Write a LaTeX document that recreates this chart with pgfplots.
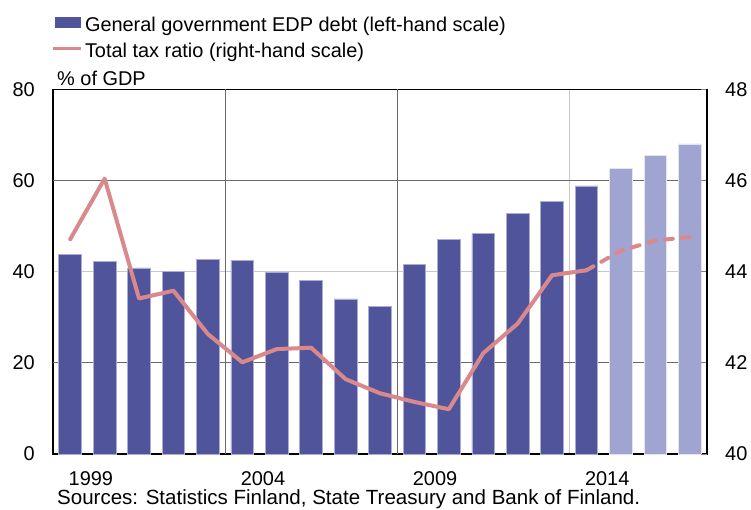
\documentclass[border=0pt]{standalone}
\usepackage{fontspec}
\setmainfont{Liberation Sans}
\usepackage{pgfplots}
\pgfplotsset{compat=1.18}
\usetikzlibrary{calc}
\definecolor{barDark}{RGB}{79,84,155}
\definecolor{barLight}{RGB}{160,164,209}
\definecolor{barEdge}{RGB}{170,174,215}
\definecolor{lineC}{RGB}{217,137,140}
\definecolor{gridDark}{RGB}{105,105,105}
\definecolor{gridLight}{RGB}{200,200,200}
\newcommand{\fs}{\fontsize{20}{24}\selectfont}
\begin{document}
\begin{tikzpicture}
\begin{axis}[
  name=ax,
  width=654bp, height=364.6bp, scale only axis,
  xmin=1998.5, xmax=2017.5, ymin=0, ymax=80,
  ytick={0,20,40,60,80},
  xtick={1999.6,2004.6,2009.6,2014.6},
  xticklabels={1999,2004,2009,2014},
  major tick length=0pt, minor tick length=0pt,
  /pgf/number format/assume math mode=true,
  ymajorgrids,
  major grid style={color=gridLight, line width=1bp},
  extra y ticks={20,60}, extra y tick labels={},
  extra y tick style={grid=major, major grid style={color=gridDark, line width=1bp}},
  extra x ticks={2003.5,2008.5}, extra x tick labels={},
  extra x tick style={grid=major, major grid style={color=gridDark, line width=1bp}},
  minor xtick={2013.5}, xminorgrids,
  minor grid style={color=gridLight, line width=1bp},
  axis line style={black, line width=1.2bp},
  yticklabel style={font=\fs, anchor=east, inner sep=0pt, xshift=-18bp},
  xticklabel style={font=\fs, anchor=base, inner sep=0pt, yshift=-31.8bp},
  clip=false,
]
\addplot[ybar, bar width=22.7bp, bar shift=0pt, fill=barDark, draw=barEdge, line width=0.8bp]
 coordinates {(1999,43.8) (2000,42.3) (2001,40.8) (2002,40.1) (2003,42.7) (2004,42.5) (2005,39.9) (2006,38.1) (2007,34.0) (2008,32.4) (2009,41.6) (2010,47.1) (2011,48.3) (2012,52.7) (2013,55.4) (2014,58.8)};
\addplot[ybar, bar width=22.7bp, bar shift=0pt, fill=barLight, draw=white!70!barLight, line width=0.8bp]
 coordinates {(2015,62.6) (2016,65.4) (2017,68.0)};
\node[font=\fs, anchor=base west, inner sep=0pt] at ($(rel axis cs:0,1)+(4bp,3.3bp)$) {\% of GDP};
\node[font=\fontsize{20.6}{24}\selectfont, anchor=base west, inner sep=0pt] at ($(rel axis cs:0,0)+(4bp,-50.5bp)$) {Sources: Statistics Finland, State Treasury and Bank of Finland.};
\end{axis}
\begin{axis}[
  width=654bp, height=364.6bp, scale only axis,
  xmin=1998.5, xmax=2017.5, ymin=40, ymax=48,
  hide x axis,
  axis y line*=right,
  ytick={40,42,44,46,48},
  tick align=inside,
  major tick length=6bp,
  tick style={color=gray, line width=0.8bp},
  y axis line style={black, line width=1.2bp},
  /pgf/number format/assume math mode=true,
  yticklabel style={font=\fs, anchor=west, inner sep=0pt, xshift=18bp},
  legend cell align=left,
  legend style={draw=none, fill=none, at={(0,1)}, anchor=north west,
    xshift=-1bp, yshift=77.6bp, font=\fs, inner sep=0pt, outer sep=0pt,
    nodes={inner sep=0pt, text height=20bp, text depth=2bp},
    row sep=3.6bp, column sep=3bp},
]
\addlegendimage{legend image code/.code={\path[draw=none,fill=none] (-2bp,-5bp) rectangle (25bp,5bp); \fill[barDark] (0bp,-5bp) rectangle (25bp,5bp);}}
\addlegendentry{General government EDP debt (left-hand scale)}
\addlegendimage{legend image code/.code={\path[draw=none,fill=none] (-2bp,-5bp) rectangle (25bp,5bp); \draw[line width=3bp, lineC] (-2bp,0) -- (25bp,0);}}
\addlegendentry{Total tax ratio (right-hand scale)}
\addplot[lineC, line width=4bp, line cap=round, line join=round, forget plot]
 coordinates {(1999,44.71) (2000,46.04) (2001,43.41) (2002,43.58) (2003,42.63) (2004,42.01) (2005,42.30) (2006,42.33) (2007,41.64) (2008,41.33) (2009,41.14) (2010,40.98) (2011,42.21) (2012,42.86) (2013,43.92) (2014,44.03)};
\addplot[lineC, line width=4bp, line cap=round, dash pattern=on 8bp off 9bp, forget plot]
 coordinates {(2014,44.03) (2015,44.46) (2016,44.68) (2017,44.76)};
\end{axis}
\pgfresetboundingbox
\path[use as bounding box] ($(ax.south west)+(-53bp,-56.1bp)$) rectangle ($(ax.north east)+(44bp,89.3bp)$);
\end{tikzpicture}
\end{document}
